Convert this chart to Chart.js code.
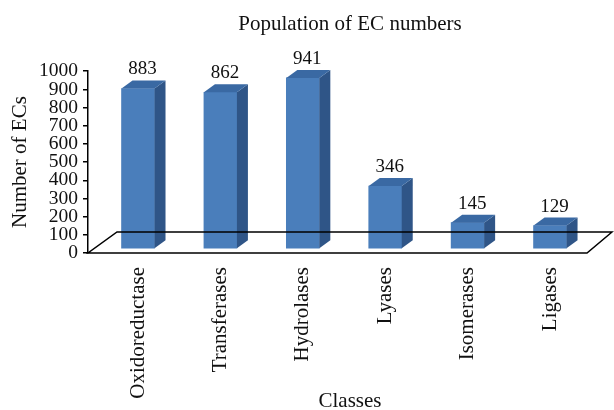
<!DOCTYPE html>
<html>
<head>
<meta charset="utf-8">
<title>Population of EC numbers</title>
<script src="https://cdn.jsdelivr.net/npm/chart.js@4.4.1/dist/chart.umd.min.js"></script>
<style>
  html, body { margin: 0; padding: 0; background: #fff; }
</style>
</head>
<body>
<canvas id="ec" width="614" height="410"></canvas>
<script>
// data
const classes = ["Oxidoreductase", "Transferases", "Hydrolases", "Lyases", "Isomerases", "Ligases"];
const ecCounts = [883, 862, 941, 346, 145, 129];

const SERIF = "'Liberation Serif', 'Times New Roman', serif";
const INK = "#111";

// 3d look
const DX = 11, DY = 8, LIFT = 4;
const FRONT = "#4a7ebb", SIDE = "#2f5587", TOP = "#3a69a3";

const bars3d = {
    id: "bars3d",
    beforeDatasetsDraw(chart) {
        chart.ctx.save();
        chart.ctx.translate(0, -LIFT);
    },
    afterDatasetsDraw(chart) {
        const ctx = chart.ctx;
        const meta = chart.getDatasetMeta(0);
        meta.data.forEach((bar, i) => {
            const { x, y, base, width } = bar.getProps(["x", "y", "base", "width"], true);
            const l = x - width / 2, r = x + width / 2;

            ctx.fillStyle = SIDE;
            ctx.beginPath();
            ctx.moveTo(r, y);
            ctx.lineTo(r + DX, y - DY);
            ctx.lineTo(r + DX, base - DY);
            ctx.lineTo(r, base);
            ctx.closePath();
            ctx.fill();

            ctx.fillStyle = TOP;
            ctx.beginPath();
            ctx.moveTo(l, y);
            ctx.lineTo(l + DX, y - DY);
            ctx.lineTo(r + DX, y - DY);
            ctx.lineTo(r, y);
            ctx.closePath();
            ctx.fill();

            ctx.fillStyle = INK;
            ctx.font = "19px " + SERIF;
            ctx.textAlign = "center";
            ctx.textBaseline = "alphabetic";
            ctx.fillText(String(ecCounts[i]), x + DX / 2 - 1, y - DY - 6);
        });
        ctx.restore();

        // floor
        const xs = chart.scales.x, ys = chart.scales.y;
        const y0 = ys.getPixelForValue(0);
        ctx.save();
        ctx.strokeStyle = "#000";
        ctx.lineWidth = 1.5;
        ctx.beginPath();
        ctx.moveTo(xs.left, y0);
        ctx.lineTo(xs.right - 25, y0);
        ctx.lineTo(xs.right, y0 - 21);
        ctx.lineTo(xs.left + 29, y0 - 21);
        ctx.closePath();
        ctx.stroke();
        ctx.restore();
    }
};

new Chart(document.getElementById("ec"), {
    type: "bar",
    data: {
        datasets: [{
            data: ecCounts.map((v, i) => ({ x: i, y: v })),
            backgroundColor: FRONT,
            borderWidth: 0,
            barThickness: 33,
            clip: false
        }]
    },
    options: {
        responsive: false,
        animation: false,
        layout: { padding: { left: 0, right: 2, top: 0, bottom: 0 } },
        plugins: {
            legend: { display: false },
            tooltip: { enabled: false },
            title: {
                display: true,
                text: "Population of EC numbers",
                fullSize: false,
                color: INK,
                font: { family: SERIF, size: 21, weight: "normal" },
                padding: { top: 12, bottom: 34 }
            }
        },
        scales: {
            x: {
                type: "linear",
                offset: false,
                min: -0.607,
                max: 5.752,
                afterBuildTicks: s => { s.ticks = classes.map((_, i) => ({ value: i })); },
                afterFit: s => { s.height = 157; },
                grid: { display: false, offset: false },
                border: { display: false },
                ticks: {
                    autoSkip: false,
                    minRotation: 90,
                    maxRotation: 90,
                    padding: 6,
                    color: INK,
                    font: { family: SERIF, size: 21 },
                    callback: v => classes[v]
                },
                title: {
                    display: true,
                    text: "Classes",
                    color: INK,
                    font: { family: SERIF, size: 21, lineHeight: 0.8 },
                    padding: 0
                }
            },
            y: {
                min: 0,
                max: 1000,
                afterFit: s => { s.width = 88; },
                grid: { drawOnChartArea: false, drawTicks: true, tickLength: 5, color: "#000", lineWidth: 1.5 },
                border: { display: true, color: "#000", width: 1.5 },
                ticks: {
                    stepSize: 100,
                    autoSkip: false,
                    padding: 5,
                    color: INK,
                    font: { family: SERIF, size: 19.5 },
                    callback: v => String(v)
                },
                title: {
                    display: true,
                    text: "Number of ECs",
                    color: INK,
                    font: { family: SERIF, size: 21 },
                    padding: { top: 8, bottom: 0 }
                }
            }
        }
    },
    plugins: [bars3d]
});
</script>
</body>
</html>
